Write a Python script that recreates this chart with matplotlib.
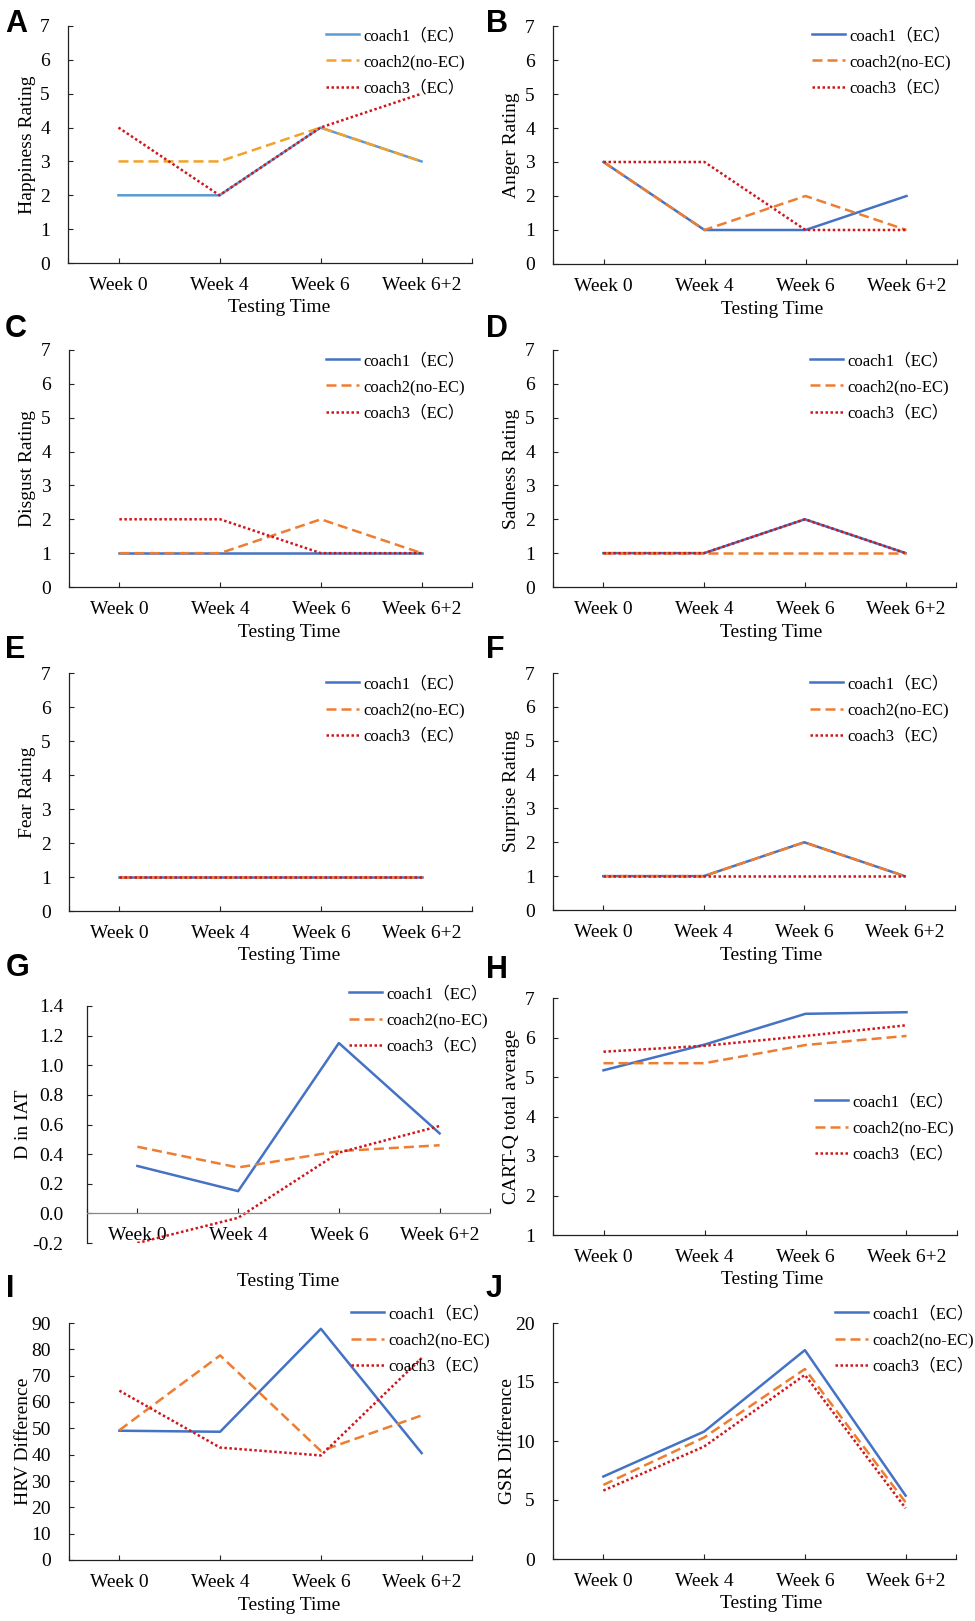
import matplotlib.pyplot as plt
from matplotlib.ticker import FixedLocator

plt.rcParams["font.family"] = ["Liberation Serif", "Noto Sans CJK SC"]

W, H = 975, 1621

weeks = ["Week 0", "Week 4", "Week 6", "Week 6+2"]
coaches = ["coach1（EC）", "coach2(no-EC)", "coach3（EC）"]

happiness = [[2, 2, 4, 3], [3, 3, 4, 3], [4, 2, 4, 5]]
anger = [[3, 1, 1, 2], [3, 1, 2, 1], [3, 3, 1, 1]]
disgust = [[1, 1, 1, 1], [1, 1, 2, 1], [2, 2, 1, 1]]
sadness = [[1, 1, 2, 1], [1, 1, 1, 1], [1, 1, 2, 1]]
fear = [[1, 1, 1, 1], [1, 1, 1, 1], [1, 1, 1, 1]]
surprise = [[1, 1, 2, 1], [1, 1, 2, 1], [1, 1, 1, 1]]
d_iat = [[0.32, 0.15, 1.15, 0.54], [0.45, 0.31, 0.42, 0.46], [-0.20, -0.03, 0.41, 0.59]]
cart_q = [[5.17, 5.82, 6.60, 6.64], [5.35, 5.35, 5.81, 6.04], [5.64, 5.79, 6.04, 6.31]]
hrv = [[49.1, 48.7, 87.8, 40.6], [49.3, 77.7, 41.4, 54.9], [64.3, 42.7, 39.7, 76.7]]
gsr = [[6.99, 10.8, 17.7, 5.37], [6.28, 10.3, 16.1, 4.8], [5.8, 9.53, 15.6, 4.3]]

blue, orange, red = "#4472C4", "#ED7D31", "#D0161B"
styles = [dict(color=blue, ls="-"),
          dict(color=orange, ls=(0, (4, 2))),
          dict(color=red, ls=(0, (1, 1)))]

# letter, data, ylabel, ylim, yticks, ytick fmt, axes box (l, r, t, b) px,
# legend (x, y) px, ylabel x px, xlabel x frac
panels = [
    ("A", happiness, "Happiness Rating", (0, 7), range(0, 8), "%d", (68, 472, 26, 263), (326, 36), 27, 0.523),
    ("B", anger, "Anger Rating", (0, 7), range(0, 8), "%d", (553, 957, 26, 264), (812, 36), 512, 0.542),
    ("C", disgust, "Disgust Rating", (0, 7), range(0, 8), "%d", (69, 472, 350, 587), (326, 361), 27, 0.545),
    ("D", sadness, "Sadness Rating", (0, 7), range(0, 8), "%d", (553, 956, 350, 587), (810, 361), 512, 0.542),
    ("E", fear, "Fear Rating", (0, 7), range(0, 8), "%d", (69, 472, 673, 911), (326, 684), 28, 0.545),
    ("F", surprise, "Surprise Rating", (0, 7), range(0, 8), "%d", (553, 955, 673, 910), (810, 684), 512, 0.542),
    ("G", d_iat, "D in IAT", (-0.2, 1.4), [-0.2 + 0.2 * i for i in range(9)], "%.1f", (87, 490, 1006, 1243), (349, 994), 24, 0.50),
    ("H", cart_q, "CART-Q total average", (1, 7), range(1, 8), "%d", (553, 957, 998, 1235), (815, 1102), 512, 0.542),
    ("I", hrv, "HRV Difference", (0, 90), range(0, 91, 10), "%d", (69, 472, 1323, 1560), (351, 1314), 24, 0.545),
    ("J", gsr, "GSR Difference", (0, 20), range(0, 21, 5), "%d", (553, 956, 1323, 1559), (835, 1314), 507, 0.542),
]
letter_pos = {"A": (5, 32), "B": (486, 32), "C": (5, 337), "D": (486, 337),
              "E": (5, 658), "F": (486, 658), "G": (6, 976), "H": (486, 978),
              "I": (6, 1297), "J": (486, 1297)}

fig = plt.figure(figsize=(W / 100, H / 100), dpi=100)

for letter, data, ylab, ylim, yt, fmt, box, leg, ylx, xlx in panels:
    l, r, t, b = box
    ax = fig.add_axes([l / W, 1 - b / H, (r - l) / W, (b - t) / H])
    x = range(len(weeks))
    for i, (vals, name) in enumerate(zip(data, coaches)):
        st = dict(styles[i])
        if letter == "A" and i == 0:
            st["color"] = "#5B9BD5"
        if letter == "A" and i == 1:
            st["color"] = "#F2A22A"
        ax.plot(x, vals, lw=1.8, label=name, **st)
    ax.set_xlim(-0.5, 3.5)
    ax.set_ylim(*ylim)
    ax.set_yticks(list(yt))
    ax.set_yticklabels([fmt % v for v in yt])
    ax.set_xticks(list(x))
    ax.set_xticklabels(weeks)
    ax.xaxis.set_minor_locator(FixedLocator([-0.5, 3.5]))
    for s in ["top", "right"]:
        ax.spines[s].set_visible(False)
    for s in ["left", "bottom"]:
        ax.spines[s].set_color("#222222")
        ax.spines[s].set_linewidth(0.9)
    ypad = 17 if letter == "G" else 13
    ax.tick_params(axis="y", direction="in", length=3.5, width=0.8, labelsize=14, pad=ypad, color="#222222")
    ax.tick_params(axis="x", which="both", direction="in", length=3.5, width=0.8, labelsize=14, pad=10, color="#222222")
    if letter == "G":
        ax.spines["bottom"].set_position(("data", 0))
        ax.spines["bottom"].set_color("#888888")

    lx, ly = leg
    ax.legend(loc="upper left", bbox_to_anchor=(lx / W, 1 - (ly - 8) / H),
              bbox_transform=fig.transFigure, frameon=False, fontsize=12,
              borderpad=0, borderaxespad=0, handlelength=2.0, handletextpad=0.25,
              labelspacing=0.62)

    fig.text(ylx / W, 1 - (t + b) / 2 / H, ylab, rotation=90, ha="center", va="center", fontsize=14)
    xlab_y = b + 39 if letter == "G" else b + 45
    fig.text((l + xlx * (r - l)) / W, 1 - xlab_y / H, "Testing Time", ha="center", va="center", fontsize=14)

    px, py = letter_pos[letter]
    fig.text(px / W, 1 - py / H, letter, ha="left", va="baseline", fontsize=22,
             fontweight="bold", family="Liberation Sans")

fig.savefig("out.png", dpi=100)
